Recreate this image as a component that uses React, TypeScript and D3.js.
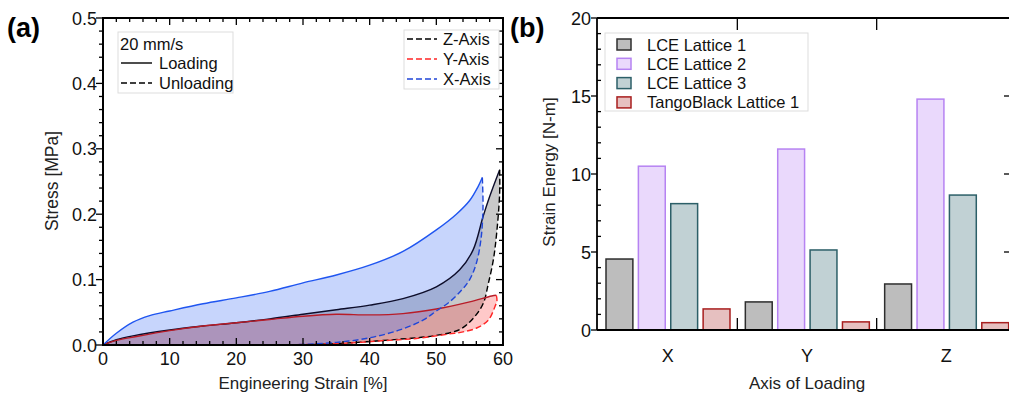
import React from "react";
import * as d3 from "d3";

// ---------- Panel (a) data: [strain %, stress MPa] ----------
const xLoading: [number, number][] = [[0,0],[2,0.018],[4.5,0.035],[7,0.045],[10,0.052],[15,0.063],[20,0.072],[25,0.082],[30,0.095],[35,0.107],[40,0.122],[45,0.143],[50,0.176],[53,0.2],[55,0.221],[56.3,0.243],[56.9,0.256]];
const xUnloading: [number, number][] = [[56.9,0.256],[57.0,0.21],[56.7,0.162],[56.0,0.125],[55.0,0.1],[53.8,0.084],[52,0.066],[50,0.052],[48,0.038],[44.5,0.023],[40,0.011],[35,0.004],[30,0.001],[27,0]];
const zLoading: [number, number][] = [[0,0],[2,0.008],[4.5,0.014],[10,0.023],[15,0.029],[20,0.034],[25,0.040],[30,0.047],[35,0.054],[40,0.061],[45,0.071],[50,0.089],[53.5,0.115],[55.5,0.145],[57,0.196],[58,0.227],[59.5,0.268]];
const zUnloading: [number, number][] = [[59.5,0.268],[59.5,0.232],[59.05,0.171],[58.55,0.13],[57.8,0.094],[57.05,0.064],[55.55,0.041],[53.55,0.024],[49.55,0.014],[44.55,0.009],[39.55,0.005],[35,0.002],[30,0]];
const yLoading: [number, number][] = [[0,0],[2,0.007],[5,0.013],[10,0.022],[15,0.029],[20,0.034],[25,0.039],[30,0.044],[35,0.047],[40,0.046],[45,0.048],[50,0.055],[55,0.066],[58.3,0.075],[59.0,0.076]];
const yUnloading: [number, number][] = [[59.0,0.076],[59.1,0.068],[58.8,0.059],[57.8,0.038],[56.05,0.026],[54,0.020],[52,0.017],[47,0.010],[42,0.0066],[37,0.003],[32,0.0012],[27,0]];

const strainTicks = [0, 10, 20, 30, 40, 50, 60];
const stressTicks = [0.0, 0.1, 0.2, 0.3, 0.4, 0.5];

// ---------- Panel (b) data ----------
const loadAxes = ["X", "Y", "Z"];
const latticeSeries = ["LCE Lattice 1", "LCE Lattice 2", "LCE Lattice 3", "TangoBlack Lattice 1"];
const lce1 = [4.55, 1.8, 2.95];
const lce2 = [10.5, 11.6, 14.8];
const lce3 = [8.1, 5.13, 8.65];
const tango1 = [1.35, 0.52, 0.47];
const energyTicks = [0, 5, 10, 15, 20];

const seriesFill = ["#bdbdbd", "#ead9fc", "#c1d1d4", "#e6c0c0"];
const seriesStroke = ["#2e2e2e", "#b683f2", "#2c5f68", "#a81e1e"];

const FONT = "Liberation Sans, Arial, Helvetica, sans-serif";
const TICK_FS = 18;
const LABEL_FS = 17;
const LEG_FS = 16.5;

export default function App() {
  // Panel (a) scales
  const ax = d3.scaleLinear().domain([0, 60]).range([103, 503]);
  const ay = d3.scaleLinear().domain([0, 0.5]).range([345, 18]);
  const line = d3.line<[number, number]>().x(d => ax(d[0])).y(d => ay(d[1])).curve(d3.curveCatmullRom.alpha(0.5));

  const loop = (load: [number, number][], unload: [number, number][]) => {
    const a = line(load) || "";
    const b = (line(unload) || "").replace(/^M/, "L");
    return a + b + `L${ax(0)},${ay(0)}Z`;
  };

  const xMinor = d3.range(0, 61, 2);
  const yMinor = d3.range(0, 0.5001, 0.02);

  // Panel (b) scales
  const bx = d3.scaleBand<string>().domain(loadAxes).range([598, 1016]);
  const inner = d3.scaleBand<string>().domain(latticeSeries).range([8, 132]).paddingInner(0.17);
  const by = d3.scaleLinear().domain([0, 20]).range([330, 18]);
  const values = [lce1, lce2, lce3, tango1];

  return (
    <svg width={1009} height={397} style={{ position: "absolute", left: 0, top: 0, fontFamily: FONT }}>
      <rect x={0} y={0} width={1009} height={397} fill="#fff" />
      {/* ================= Panel (a) ================= */}
      <text x={7} y={37} fontSize={27} fontWeight="bold">(a)</text>
      <g>
        <path d={loop(zLoading, zUnloading)} fill="rgb(120,120,120)" fillOpacity={0.4} stroke="none" />
        <path d={loop(yLoading, yUnloading)} fill="rgb(255,60,60)" fillOpacity={0.28} stroke="none" />
        <path d={loop(xLoading, xUnloading)} fill="rgb(70,115,245)" fillOpacity={0.3} stroke="none" />

        <path d={line(zLoading) || ""} fill="none" stroke="#0d0d2a" strokeWidth={1.4} />
        <path d={line(zUnloading) || ""} fill="none" stroke="#000" strokeWidth={1.4} strokeDasharray="6,3" />
        <path d={line(yLoading) || ""} fill="none" stroke="#b81c28" strokeWidth={1.4} />
        <path d={line(yUnloading) || ""} fill="none" stroke="#ff2626" strokeWidth={1.4} strokeDasharray="6,3" />
        <path d={line(xLoading) || ""} fill="none" stroke="#1f55f0" strokeWidth={1.4} />
        <path d={line(xUnloading) || ""} fill="none" stroke="#2046d8" strokeWidth={1.4} strokeDasharray="6,3" />
      </g>
      {/* ticks */}
      <g stroke="#000" strokeWidth={1.3}>
        {xMinor.map(v => {
          const major = v % 10 === 0;
          const len = major ? 7 : 4;
          return (
            <g key={"xm" + v}>
              <line x1={ax(v)} x2={ax(v)} y1={345} y2={345 - len} />
              <line x1={ax(v)} x2={ax(v)} y1={18} y2={18 + len} />
            </g>
          );
        })}
        {yMinor.map((v, i) => {
          const major = i % 5 === 0;
          const len = major ? 7 : 4;
          return (
            <g key={"ym" + i}>
              <line x1={103} x2={103 - len} y1={ay(v)} y2={ay(v)} />
              <line x1={503} x2={503 - len} y1={ay(v)} y2={ay(v)} />
            </g>
          );
        })}
      </g>
      <rect x={103} y={18} width={400} height={327} fill="none" stroke="#000" strokeWidth={2} />
      <g fontSize={TICK_FS} fill="#111">
        {strainTicks.map(v => (
          <text key={"xt" + v} x={ax(v)} y={365} textAnchor="middle">{v}</text>
        ))}
        {stressTicks.map(v => (
          <text key={"yt" + v} x={97} y={ay(v) + 6.5} textAnchor="end">{v.toFixed(1)}</text>
        ))}
      </g>
      <text x={303} y={389} textAnchor="middle" fontSize={LABEL_FS} fill="#222">Engineering Strain [%]</text>
      <text transform={`translate(58,181) rotate(-90)`} textAnchor="middle" fontSize={17.5} fill="#222">Stress [MPa]</text>

      {/* legend left */}
      <rect x={118} y={32} width={115} height={61} fill="#fff" stroke="#ddd" strokeWidth={1} />
      <text x={120} y={50} fontSize={LEG_FS} fill="#111">20 mm/s</text>
      <line x1={121} x2={152} y1={63} y2={63} stroke="#000" strokeWidth={1.4} />
      <text x={159} y={69} fontSize={LEG_FS} fill="#111">Loading</text>
      <line x1={121} x2={152} y1={83} y2={83} stroke="#000" strokeWidth={1.4} strokeDasharray="6,3" />
      <text x={159} y={89} fontSize={LEG_FS} fill="#111">Unloading</text>

      {/* legend right */}
      <rect x={404} y={30} width={95} height={59} fill="#fff" stroke="#ddd" strokeWidth={1} />
      {[["Z-Axis", "#000"], ["Y-Axis", "#ff2626"], ["X-Axis", "#2046d8"]].map((d, i) => (
        <g key={d[0]}>
          <line x1={407} x2={437} y1={39 + i * 20} y2={39 + i * 20} stroke={d[1]} strokeWidth={1.4} strokeDasharray="6,3" />
          <text x={443} y={45 + i * 20} fontSize={LEG_FS} fill="#111">{d[0]}</text>
        </g>
      ))}

      {/* ================= Panel (b) ================= */}
      <text x={510} y={37} fontSize={27} fontWeight="bold">(b)</text>
      {loadAxes.map((c, ci) => (
        <g key={c}>
          {latticeSeries.map((s, si) => {
            const v = values[si][ci];
            const x0 = (bx(c) || 0) + (inner(s) || 0);
            return (
              <rect key={s} x={x0} y={by(v)} width={inner.bandwidth()} height={by(0) - by(v)}
                fill={seriesFill[si]} stroke={seriesStroke[si]} strokeWidth={1.5} />
            );
          })}
        </g>
      ))}
      <g stroke="#000" strokeWidth={1.3}>
        <line x1={597} x2={1009} y1={330} y2={330} strokeWidth={1.8} />
        <line x1={597} x2={1009} y1={18} y2={18} strokeWidth={1.8} />
        <line x1={597} x2={597} y1={18} y2={330} strokeWidth={1.8} />
        {[bx("Y") || 0, bx("Z") || 0].map(x => (
          <g key={"bt" + x}>
            <line x1={x} x2={x} y1={330} y2={318} />
            <line x1={x} x2={x} y1={18} y2={30} />
          </g>
        ))}
        {d3.range(0, 21, 1).map(v => {
          const major = v % 5 === 0;
          return major
            ? <line key={"bl" + v} x1={597} x2={591} y1={by(v)} y2={by(v)} />
            : <line key={"bl" + v} x1={597} x2={601} y1={by(v)} y2={by(v)} />;
        })}
        {[5, 10, 15].map(v => (
          <line key={"br" + v} x1={1009} x2={1004} y1={by(v)} y2={by(v)} />
        ))}
      </g>
      <g fontSize={TICK_FS} fill="#111">
        {energyTicks.map(v => (
          <text key={"et" + v} x={591} y={by(v) + 6.5} textAnchor="end">{v}</text>
        ))}
        {loadAxes.map(c => (
          <text key={"cl" + c} x={(bx(c) || 0) + bx.bandwidth() / 2} y={362} textAnchor="middle">{c}</text>
        ))}
      </g>
      <text x={807} y={389} textAnchor="middle" fontSize={LABEL_FS} fill="#222">Axis of Loading</text>
      <text transform={`translate(555,172) rotate(-90)`} textAnchor="middle" fontSize={LABEL_FS} fill="#222">Strain Energy [N-m]</text>

      {/* legend b */}
      <rect x={605} y={33} width={203} height={78} fill="#fff" stroke="#ddd" strokeWidth={1} />
      {latticeSeries.map((s, i) => (
        <g key={"lg" + s}>
          <rect x={617} y={39 + i * 19.3} width={14} height={11} fill={seriesFill[i]} stroke={seriesStroke[i]} strokeWidth={1.5} />
          <text x={647} y={50.5 + i * 19.3} fontSize={LEG_FS} fill="#111">{s}</text>
        </g>
      ))}
    </svg>
  );
}
